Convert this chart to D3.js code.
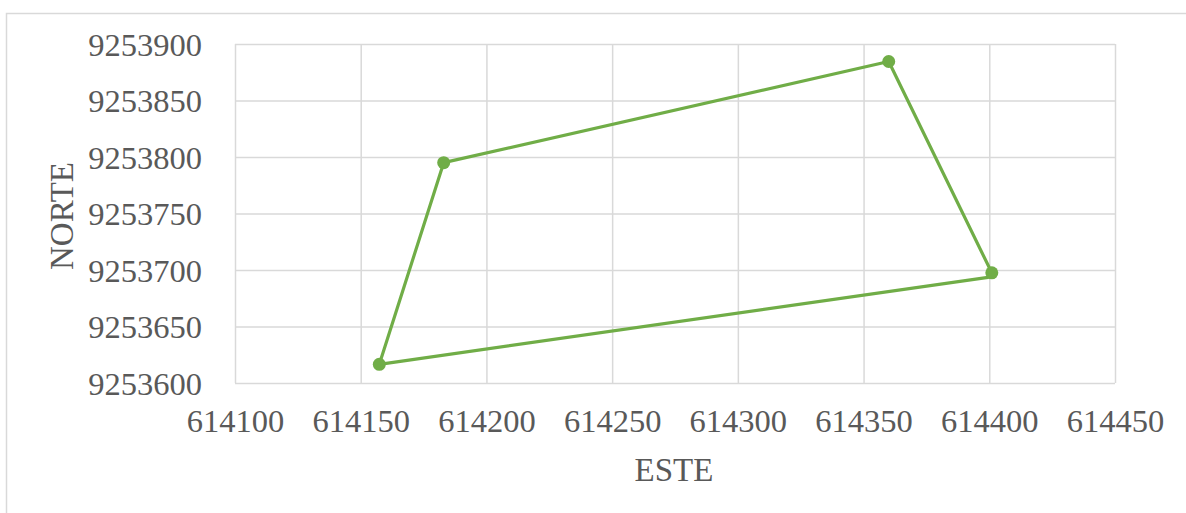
<!DOCTYPE html>
<html><head><meta charset="utf-8">
<script src="https://cdn.jsdelivr.net/npm/d3@7"></script>
<style>body{margin:0;background:#fff;} svg{display:block;}</style>
</head><body>
<svg id="c" width="1186" height="513"></svg>
<script>
const este = [614157.4, 614183, 614360, 614401, 614399.5, 614157.4];
const norte = [9253616.5, 9253795, 9253884.5, 9253697.5, 9253693.5, 9253616.5];
const markerFlags = [1, 1, 1, 1, 0, 0];
const xTicks = [614100, 614150, 614200, 614250, 614300, 614350, 614400, 614450];
const yTicks = [9253600, 9253650, 9253700, 9253750, 9253800, 9253850, 9253900];
const xTitle = "ESTE", yTitle = "NORTE";

const svg = d3.select("#c");
const L = 235, R = 1115, T = 44, B = 383;
const x = d3.scaleLinear().domain([614100, 614450]).range([L, R]);
const y = d3.scaleLinear().domain([9253600, 9253900]).range([B, T]);
const font = "'Liberation Serif','Times New Roman',serif";
const grey = "#595959", grid = "#d9d9d9", green = "#70ad47";

// outer border
svg.append("rect").attr("x", 6.5).attr("y", 13.5).attr("width", 1200).attr("height", 600)
  .attr("fill", "none").attr("stroke", grid).attr("stroke-width", 1.5);

// gridlines
const gx = svg.append("g").attr("transform", `translate(0,${B})`)
  .call(d3.axisBottom(x).tickValues(xTicks).tickSize(-(B - T)).tickFormat(d => d3.format("d")(d)).tickPadding(20));
const gy = svg.append("g").attr("transform", `translate(${L},0)`)
  .call(d3.axisLeft(y).tickValues(yTicks).tickSize(-(R - L)).tickFormat(d => d3.format("d")(d)).tickPadding(33));
[gx, gy].forEach(g => {
  g.attr("font-family", font);
  g.select(".domain").remove();
  g.selectAll(".tick line").attr("stroke", grid).attr("stroke-width", 1.5);
  g.selectAll(".tick text").attr("fill", grey).attr("font-family", font).attr("font-size", 32.5);
});
gx.selectAll(".tick text").attr("dy", "0.88em");
gy.selectAll(".tick text").attr("dy", "0.34em");

// series
const pts = este.map((e, i) => ({e, n: norte[i], m: markerFlags[i]}));
svg.append("path").datum(pts)
  .attr("d", d3.line().x(d => x(d.e)).y(d => y(d.n)))
  .attr("fill", "none").attr("stroke", green).attr("stroke-width", 3.2).attr("stroke-linejoin", "round");
svg.selectAll("circle.pt").data(pts.filter(d => d.m)).enter().append("circle")
  .attr("cx", d => x(d.e)).attr("cy", d => y(d.n)).attr("r", 6.5).attr("fill", green);

// axis titles
svg.append("text").attr("x", 674).attr("y", 481).attr("text-anchor", "middle")
  .attr("font-family", font).attr("font-size", 33).attr("fill", grey).text(xTitle);
svg.append("text").attr("transform", "translate(73,216) rotate(-90)").attr("text-anchor", "middle")
  .attr("font-family", font).attr("font-size", 33).attr("fill", grey).text(yTitle);
</script>
</body></html>
